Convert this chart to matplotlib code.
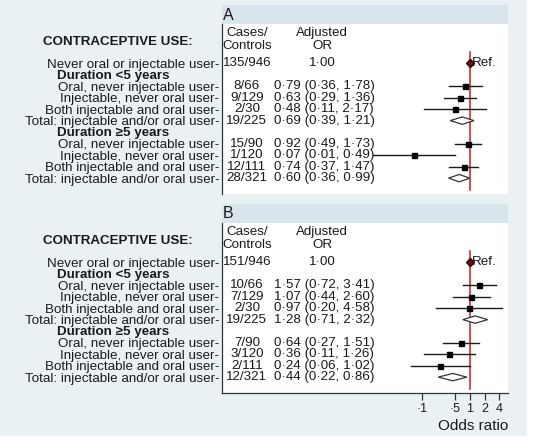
import matplotlib.pyplot as plt
from matplotlib.patches import Rectangle, Polygon
import matplotlib.transforms as mtransforms

plt.rcParams['font.family'] = ['Liberation Sans', 'DejaVu Sans']

# row labels (shared by both panels)
labels = ["Never oral or injectable user",
          "Oral, never injectable user", "Injectable, never oral user",
          "Both injectable and oral user", "Total: injectable and/or oral user",
          "Oral, never injectable user", "Injectable, never oral user",
          "Both injectable and oral user", "Total: injectable and/or oral user"]
headers = ["Duration <5 years", "Duration \u22655 years"]
is_total = [False, False, False, False, True, False, False, False, True]

# panel A
a_cases = ["135/946", "8/66", "9/129", "2/30", "19/225", "15/90", "1/120", "12/111", "28/321"]
a_or = [1.00, 0.79, 0.63, 0.48, 0.69, 0.92, 0.07, 0.74, 0.60]
a_lo = [None, 0.36, 0.29, 0.11, 0.39, 0.49, 0.01, 0.37, 0.36]
a_hi = [None, 1.78, 1.36, 2.17, 1.21, 1.73, 0.49, 1.47, 0.99]

# panel B
b_cases = ["151/946", "10/66", "7/129", "2/30", "19/225", "7/90", "3/120", "2/111", "12/321"]
b_or = [1.00, 1.57, 1.07, 0.97, 1.28, 0.64, 0.36, 0.24, 0.44]
b_lo = [None, 0.72, 0.44, 0.20, 0.71, 0.27, 0.11, 0.06, 0.22]
b_hi = [None, 3.41, 2.60, 4.58, 2.32, 1.51, 1.26, 1.02, 0.86]

xticks = [0.1, 0.5, 1, 2, 4]
xticklabels = ["\u00b71", "\u00b75", "1", "2", "4"]

rows = [0, 2, 3, 4, 5, 7, 8, 9, 10]
header_rows = [1.1, 6.1]

FS = 9.6
TXT = '#1a1a1a'
W, H = 547, 440


def dot(v):
    return f"{v:.2f}".replace('.', '\u00b7')


fig = plt.figure(figsize=(W / 100, H / 100), dpi=100, facecolor='white')
fig.patches.append(Rectangle((0, 1 - 436 / H), 527 / W, 436 / H, transform=fig.transFigure,
                             facecolor='#e9f1f3', edgecolor='none', zorder=-10))


def draw_panel(top, letter, cases, ors, los, his, show_x):
    left, right = 222, 508
    ax = fig.add_axes([left / W, 1 - (top + 170) / H, (right - left) / W, 170 / H])
    fig.patches.append(Rectangle((left / W, 1 - top / H), (right - left) / W, 19 / H,
                                 transform=fig.transFigure, facecolor='#d9e5ec',
                                 edgecolor='none', zorder=-5))
    fig.text((left + 1) / W, 1 - (top - 9) / H, letter, fontsize=11.5, color=TXT,
             ha='left', va='center')
    ax.set_facecolor('white')
    ax.set_xscale('log')
    ax.set_xlim(10 ** -5.135, 10 ** 0.787)
    ax.set_ylim(11.38, -3.4)

    tr = mtransforms.blended_transform_factory(ax.transAxes, ax.transData)
    cx = 0.087
    ax.text(cx, -2.6, "Cases/", transform=tr, ha='center', va='center', fontsize=FS, color=TXT)
    ax.text(cx, -1.45, "Controls", transform=tr, ha='center', va='center', fontsize=FS, color=TXT)
    ax.text(0.35, -2.6, "Adjusted", transform=tr, ha='center', va='center', fontsize=FS, color=TXT)
    ax.text(0.35, -1.45, "OR", transform=tr, ha='center', va='center', fontsize=FS, color=TXT)
    ax.text(-0.365, -1.85, "CONTRACEPTIVE USE:", transform=tr, ha='center', va='center',
            fontsize=FS, fontweight='bold', color=TXT, clip_on=False)
    for hy, h in zip(header_rows, headers):
        ax.text(-0.576, hy, h, transform=tr, ha='left', va='center', fontsize=FS,
                fontweight='bold', color=TXT, clip_on=False)

    ax.plot([1, 1], [-0.95, 11.0], color='#d0302c', lw=1.2, zorder=1)

    for y, c, o, lo, hi, tot in zip(rows, cases, ors, los, his, is_total):
        ax.text(cx, y, c, transform=tr, ha='center', va='center', fontsize=FS, color=TXT)
        if lo is None:
            ax.text(0.35, y, dot(o), transform=tr, ha='center', va='center', fontsize=FS, color=TXT)
            ax.plot(o, y, marker='D', ms=4.2, color='#7a0a0a', mec='#2a0000', zorder=3)
            ax.text(1.12, y, "Ref.", ha='left', va='center', fontsize=FS, color=TXT)
            continue
        ax.text(0.182, y, f"{dot(o)} ({dot(lo)}, {dot(hi)})", transform=tr, ha='left',
                va='center', fontsize=FS, color=TXT)
        if tot:
            ax.add_patch(Polygon([(lo, y), (o, y - 0.32), (hi, y), (o, y + 0.32)],
                                 closed=True, facecolor='white', edgecolor='#333333',
                                 lw=0.9, zorder=2))
        else:
            ax.plot([lo, hi], [y, y], color='#1a1a1a', lw=1.0, zorder=2)
            ax.plot(o, y, marker='s', ms=3.6, color='black', zorder=3)

    ax.set_yticks(rows)
    ax.set_yticklabels([l + "-" for l in labels], fontsize=FS, color=TXT)
    ax.tick_params(axis='y', length=0, pad=2)
    ax.minorticks_off()
    for s in ['top', 'right']:
        ax.spines[s].set_visible(False)
    ax.spines['left'].set_color('#333333')
    ax.spines['left'].set_linewidth(0.9)
    if show_x:
        ax.set_xticks(xticks)
        ax.set_xticklabels(xticklabels, fontsize=9, color=TXT)
        ax.tick_params(axis='x', which='major', length=5, width=0.9, color='#333333', pad=2)
        ax.tick_params(axis='x', which='minor', length=0)
        ax.spines['bottom'].set_color('#333333')
        ax.spines['bottom'].set_linewidth(0.9)
        ax.set_xlabel("Odds ratio", fontsize=11, color=TXT, loc='right', labelpad=3)
    else:
        ax.spines['bottom'].set_visible(False)
        ax.set_xticks([])
        ax.tick_params(axis='x', which='both', length=0, labelbottom=False)
    return ax


draw_panel(24, "A", a_cases, a_or, a_lo, a_hi, False)
draw_panel(223, "B", b_cases, b_or, b_lo, b_hi, True)

fig.savefig("out.png", dpi=100, facecolor=fig.get_facecolor())
